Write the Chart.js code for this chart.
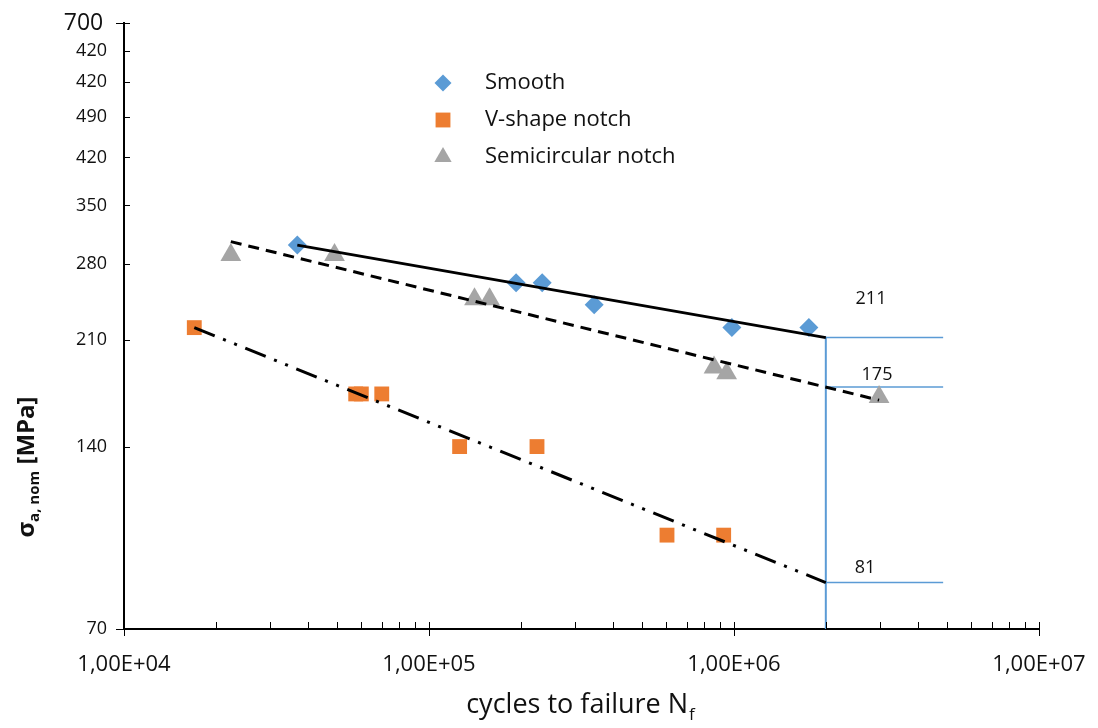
<!DOCTYPE html>
<html lang="en">
<head>
  <meta charset="UTF-8">
  <title>S-N curves</title>
  <script src="https://cdn.jsdelivr.net/npm/chart.js@4.4.1/dist/chart.umd.min.js"></script>
  <style>
    html, body { margin: 0; padding: 0; background: #fff; }
    #wrap { width: 1098px; height: 728px; }
  </style>
</head>
<body>
  <div id="wrap"><canvas id="snChart"></canvas></div>

  <script>
    // test points (cycles, stress amplitude in MPa)
    const smoothN = [3.7e4, 1.93e5, 2.35e5, 3.48e5, 9.84e5, 1.76e6];
    const smoothS = [301, 261, 261, 240, 220, 220];
    const vNotchN = [1.7e4, 5.75e4, 6.0e4, 7.0e4, 1.26e5, 2.26e5, 6.03e5, 9.25e5];
    const vNotchS = [220, 171, 171, 171, 140, 140, 100, 100];
    const semiN = [2.24e4, 4.9e4, 1.41e5, 1.58e5, 8.6e5, 9.46e5, 2.99e6];
    const semiS = [290, 290, 245, 245, 189, 185, 169];

    // fitted lines, end points
    const smoothFitN = [3.7e4, 2e6];
    const smoothFitS = [301, 211.8];
    const semiFitN = [2.24e4, 2.99e6];
    const semiFitS = [305, 167];
    const vNotchFitN = [1.7e4, 2e6];
    const vNotchFitS = [220, 83.5];

    // fatigue strength at 2e6 cycles
    const refN = 2e6;
    const refEndN = 4.85e6;
    const refLevels = [211.8, 175.6, 83.5];
    const refTexts = ['211', '175', '81'];

    const seriesNames = ['Smooth', 'V-shape notch', 'Semicircular notch'];
    const seriesColors = ['#5B9BD5', '#ED7D31', '#A5A5A5'];
    const seriesShapes = ['rectRot', 'rect', 'triangle'];

    const xTickValues = [1e4, 1e5, 1e6, 1e7];
    const yTickValues = [70, 140, 210, 280, 350, 420, 490, 560, 630, 700];
    const yTickLabels = ['70', '140', '210', '280', '350', '420', '490', '420', '420', '700'];

    const FONT = '"Open Sans", "Liberation Sans", sans-serif';
    const pts = (ns, ss) => ns.map((n, i) => ({ x: n, y: ss[i] }));

    const refLines = [{ data: [{ x: refN, y: 70 }, { x: refN, y: 212.5 }], borderWidth: 2 }]
      .concat(refLevels.map(s => ({ data: [{ x: refN, y: s }, { x: refEndN, y: s }], borderWidth: 1.5 })))
      .map(d => Object.assign(d, { showLine: true, borderColor: '#5B9BD5', pointRadius: 0 }));

    const noPad = s => { s.paddingLeft = 0; s.paddingRight = 0; s.paddingTop = 0; s.paddingBottom = 0; };

    // axis tick marks and texts drawn onto the canvas
    const decorations = {
      id: 'decorations',
      afterDraw(chart) {
        const ctx = chart.ctx;
        const xs = chart.scales.x, ys = chart.scales.y;
        const a = chart.chartArea;
        ctx.save();
        ctx.strokeStyle = '#000';
        ctx.lineWidth = 1;
        ctx.beginPath();
        yTickValues.forEach(v => {
          const y = Math.round(ys.getPixelForValue(v)) + 0.5;
          const x0 = (v === 70 || v === 700) ? a.left - 8 : a.left;
          const x1 = v === 70 ? a.left : a.left + 6;
          ctx.moveTo(x0, y); ctx.lineTo(x1, y);
        });
        xTickValues.forEach((d, k) => {
          const x = Math.round(xs.getPixelForValue(d)) + 0.5;
          ctx.moveTo(x, a.bottom - 7); ctx.lineTo(x, a.bottom + 7);
          if (k < xTickValues.length - 1) {
            for (let m = 2; m <= 9; m++) {
              const xm = Math.round(xs.getPixelForValue(d * m)) + 0.5;
              ctx.moveTo(xm, a.bottom - 7); ctx.lineTo(xm, a.bottom);
            }
          }
        });
        ctx.stroke();

        // legend
        ctx.textBaseline = 'middle';
        ctx.font = '22px ' + FONT;
        const legY = [83, 120, 157];
        seriesNames.forEach((name, i) => {
          ctx.fillStyle = seriesColors[i];
          Chart.helpers.drawPoint(ctx, { pointStyle: seriesShapes[i], radius: [8.5, 10.5, 10][i], rotation: 0, borderWidth: 0 }, 443, legY[i]);
          ctx.fillStyle = '#111';
          ctx.fillText(name, 485, legY[i]);
        });

        // values at 2e6 cycles
        ctx.font = '18px ' + FONT;
        ctx.textAlign = 'center';
        ctx.textBaseline = 'alphabetic';
        const labelX = [871, 877, 865];
        const labelDy = [34, 7, 10];
        refLevels.forEach((s, i) => {
          ctx.fillText(refTexts[i], labelX[i], ys.getPixelForValue(s) - labelDy[i]);
        });

        // x title with subscript
        ctx.textAlign = 'left';
        ctx.font = '27px ' + FONT;
        const xt = 'cycles to failure N';
        const xtw = ctx.measureText(xt).width;
        ctx.font = '17px ' + FONT;
        const fw = ctx.measureText('f').width;
        const tx = 580 - (xtw + fw) / 2;
        ctx.font = '27px ' + FONT;
        ctx.fillText(xt, tx, 713);
        ctx.font = '17px ' + FONT;
        ctx.fillText('f', tx + xtw + 1, 720);

        // y title, rotated, with subscript
        ctx.translate(34, 467);
        ctx.rotate(-Math.PI / 2);
        const parts = [['σ', 'bold 24px ' + FONT, 0], ['a, nom', 'bold 15px ' + FONT, 5], [' [MPa]', 'bold 24px ' + FONT, 0]];
        let total = 0;
        parts.forEach(p => { ctx.font = p[1]; total += ctx.measureText(p[0]).width; });
        let px = -total / 2;
        parts.forEach(p => {
          ctx.font = p[1];
          ctx.fillText(p[0], px, p[2]);
          px += ctx.measureText(p[0]).width;
        });
        ctx.restore();
      }
    };

    new Chart(document.getElementById('snChart'), {
      type: 'scatter',
      data: {
        datasets: [
          { data: pts(smoothFitN, smoothFitS), showLine: true, borderColor: '#000', borderWidth: 3, pointRadius: 0 },
          { data: pts(semiFitN, semiFitS), showLine: true, borderColor: '#000', borderWidth: 3, pointRadius: 0, borderDash: [11, 7] },
          { data: pts(vNotchFitN, vNotchFitS), showLine: true, borderColor: '#000', borderWidth: 3, pointRadius: 0, borderDash: [22, 9, 3, 9, 3, 9] },
          { label: seriesNames[0], data: pts(smoothN, smoothS), pointStyle: 'rectRot', pointRadius: 9.5, backgroundColor: seriesColors[0], borderWidth: 0 },
          { label: seriesNames[1], data: pts(vNotchN, vNotchS), pointStyle: 'rect', pointRadius: 10.5, backgroundColor: seriesColors[1], borderWidth: 0 },
          { label: seriesNames[2], data: pts(semiN, semiS), pointStyle: 'triangle', pointRadius: 12, backgroundColor: seriesColors[2], borderWidth: 0 },
          ...refLines
        ]
      },
      options: {
        responsive: true,
        maintainAspectRatio: false,
        animation: false,
        layout: { padding: { left: 0, top: 23, right: 59, bottom: 0 } },
        plugins: { legend: { display: false }, tooltip: { enabled: false } },
        scales: {
          x: {
            type: 'logarithmic', min: 1e4, max: 1e7,
            afterBuildTicks: s => { s.ticks = xTickValues.map(v => ({ value: v })); },
            afterFit: s => { s.height = 99; noPad(s); },
            ticks: {
              autoSkip: false, maxRotation: 0, padding: 23, color: '#111',
              font: { family: FONT, size: 22 },
              callback: v => '1,00E+' + String(Math.round(Math.log10(v))).padStart(2, '0')
            },
            grid: { display: false, drawTicks: false },
            border: { display: true, color: '#000', width: 2 }
          },
          y: {
            type: 'logarithmic', min: 70, max: 700,
            afterBuildTicks: s => { s.ticks = yTickValues.map(v => ({ value: v })); },
            afterFit: s => { s.width = 124; noPad(s); },
            ticks: {
              autoSkip: false, padding: 17, color: '#111',
              font: c => ({ family: FONT, size: c.tick && c.tick.value === 700 ? 23 : 18 }),
              callback: (v, i) => yTickLabels[i] + (v === 700 ? '\u2009' : '')
            },
            grid: { display: false, drawTicks: false },
            border: { display: true, color: '#000', width: 2 }
          }
        }
      },
      plugins: [decorations]
    });
  </script>
</body>
</html>
